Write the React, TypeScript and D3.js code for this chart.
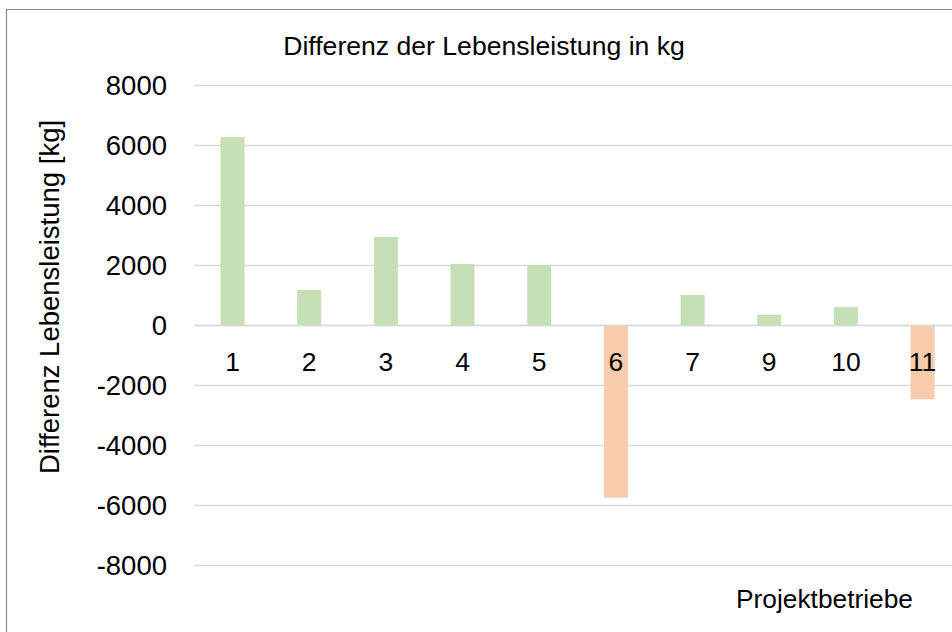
import React from "react";
import * as d3 from "d3";

const categories = ["1", "2", "3", "4", "5", "6", "7", "9", "10", "11"];
const values = [6280, 1180, 2950, 2050, 2010, -5740, 1020, 360, 610, -2460];
const yTicks = [-8000, -6000, -4000, -2000, 0, 2000, 4000, 6000, 8000];
const title = "Differenz der Lebensleistung in kg";
const yLabel = "Differenz Lebensleistung [kg]";
const xLabel = "Projektbetriebe";

const W = 952;
const H = 632;
const FONT = "'Liberation Sans', Arial, sans-serif";

export default function App() {
  const y = d3.scaleLinear().domain([-8000, 8000]).range([565.5, 85.5]);
  const x = d3
    .scaleBand<string>()
    .domain(categories)
    .range([194.2, 960.9])
    .paddingInner(0.687)
    .paddingOuter(0.3435);
  const y0 = y(0);

  return (
    <svg
      width={W}
      height={H}
      style={{ position: "fixed", left: 0, top: 0, display: "block", background: "#fff" }}
      fontFamily={FONT}
    >
      <rect x={0} y={0} width={W} height={H} fill="#fff" />
      <path d={`M6.5,${H + 2} V9.5 H${W + 2}`} fill="none" stroke="#8c8c8c" strokeWidth={1.2} />
      {yTicks.map((t) => (
        <line key={"g" + t} x1={194} x2={W + 2} y1={y(t)} y2={y(t)} stroke="#d9d9d9" strokeWidth={1.5} />
      ))}
      {categories.map((c, i) => {
        const v = values[i];
        const top = Math.min(y(v), y0);
        const h = Math.abs(y(v) - y0);
        return (
          <rect
            key={"b" + c}
            x={x(c)}
            y={top}
            width={x.bandwidth()}
            height={h}
            fill={v >= 0 ? "#c5e0b4" : "#f8cbad"}
          />
        );
      })}
      <line x1={194} x2={W + 2} y1={y0} y2={y0} stroke="#d9d9d9" strokeWidth={1.5} />
      {yTicks.map((t) => (
        <text
          key={"t" + t}
          x={167}
          y={y(t)}
          dy="0.35em"
          textAnchor="end"
          fontSize={27.5}
          fill="#000"
        >
          {t}
        </text>
      ))}
      {categories.map((c) => (
        <text
          key={"c" + c}
          x={(x(c) as number) + x.bandwidth() / 2}
          y={370.5}
          textAnchor="middle"
          fontSize={26.5}
          fill="#000"
        >
          {c}
        </text>
      ))}
      <text x={484} y={55} textAnchor="middle" fontSize={26.6} fill="#000">
        {title}
      </text>
      <text
        transform={`translate(59,297) rotate(-90)`}
        textAnchor="middle"
        fontSize={27.5}
        fill="#000"
      >
        {yLabel}
      </text>
      <text x={824.5} y={608} textAnchor="middle" fontSize={26.3} fill="#000">
        {xLabel}
      </text>
    </svg>
  );
}
